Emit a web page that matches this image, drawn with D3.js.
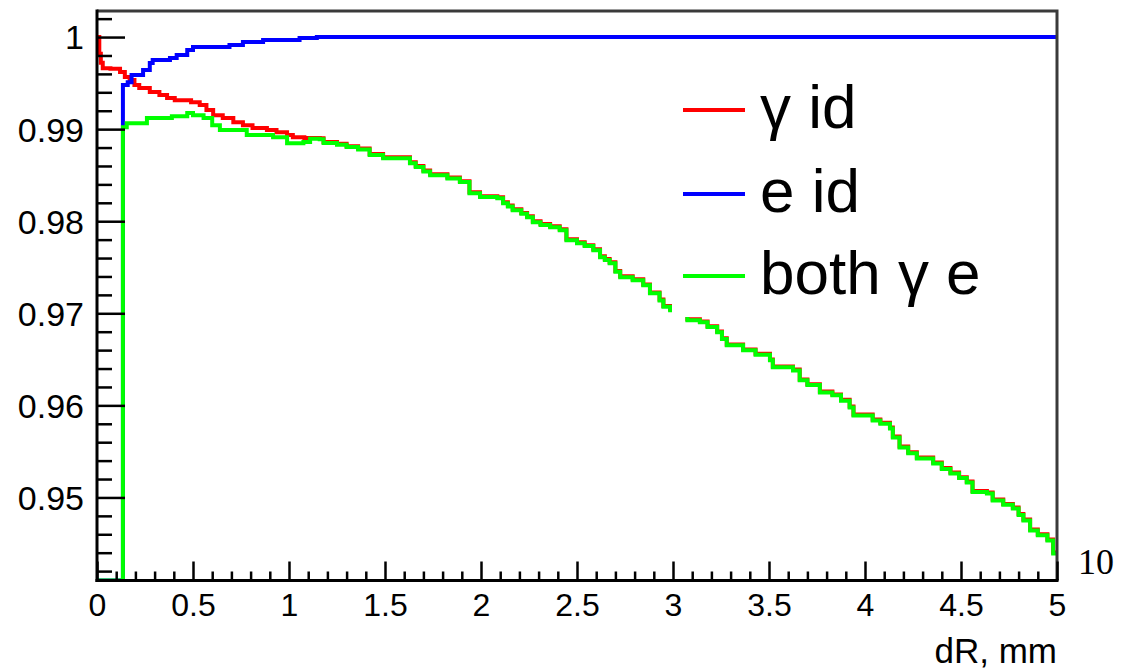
<!DOCTYPE html>
<html>
<head>
<meta charset="utf-8">
<script src="https://cdn.jsdelivr.net/npm/d3@7"></script>
<style>
  html, body { margin: 0; padding: 0; background: #fff; }
  svg { display: block; }
  .tick-label { font-family: "Liberation Sans", Arial, Helvetica, sans-serif; fill: #000; }
</style>
</head>
<body>
<svg id="chart" width="1128" height="669"></svg>
<script>
// dR range and efficiency range of the frame
const xDomain = [0, 5];
const yDomain = [0.94098, 1.00283];

// axis ticks
const xMajorTicks = [0, 0.5, 1, 1.5, 2, 2.5, 3, 3.5, 4, 4.5, 5];
const xTickLabels = ["0", "0.5", "1", "1.5", "2", "2.5", "3", "3.5", "4", "4.5", "5"];
const yMajorTicks = [0.95, 0.96, 0.97, 0.98, 0.99, 1.0];
const yTickLabels = ["0.95", "0.96", "0.97", "0.98", "0.99", "1"];

// legend entries
const legendLabels = ["γ id", "e id", "both γ e"];

// γ id : low-dR part (step left edges and contents)
const gammaHeadEdges = [0, 0.012, 0.02, 0.03, 0.07, 0.12, 0.145, 0.17, 0.195, 0.22, 0.275, 0.325, 0.365, 0.405, 0.49, 0.535, 0.57, 0.605, 0.655, 0.71, 0.76, 0.81, 0.885, 0.935, 0.99, 1.02, 1.08];
const gammaHeadValues = [1.0, 0.9982, 0.9972, 0.9966, 0.99655, 0.9962, 0.99565, 0.99533, 0.99478, 0.99446, 0.99402, 0.9937, 0.99337, 0.99315, 0.99293, 0.99261, 0.99207, 0.99152, 0.9912, 0.99076, 0.99043, 0.99011, 0.9899, 0.98967, 0.98935, 0.98913, 0.98905];

// both γ e : low-dR part
const bothHeadEdges = [0, 0.135, 0.155, 0.26, 0.39, 0.47, 0.50, 0.555, 0.60, 0.64, 0.78, 0.917, 0.99, 1.075, 1.11];
const bothHeadValues = [0, 0.9902, 0.99065, 0.9912, 0.99141, 0.99174, 0.9915, 0.9912, 0.99043, 0.9899, 0.98935, 0.98913, 0.98848, 0.98859, 0.98895];

// high-dR part, where γ id and both γ e run together
const tailEdges = [1.16, 1.18, 1.25, 1.30, 1.36, 1.42, 1.49, 1.63, 1.66, 1.70, 1.735, 1.825, 1.89, 1.94, 1.995, 2.085, 2.115, 2.14, 2.165, 2.21, 2.24, 2.27, 2.31, 2.36, 2.41, 2.445, 2.50, 2.54, 2.585, 2.62, 2.645, 2.67, 2.70, 2.725, 2.79, 2.845, 2.88, 2.93, 2.95, 2.985, 3.03, 3.075, 3.14, 3.18, 3.23, 3.255, 3.28, 3.365, 3.43, 3.505, 3.52, 3.625, 3.66, 3.70, 3.765, 3.83, 3.875, 3.92, 3.94, 4.04, 4.08, 4.13, 4.145, 4.18, 4.225, 4.27, 4.355, 4.40, 4.445, 4.49, 4.53, 4.56, 4.635, 4.665, 4.72, 4.77, 4.80, 4.825, 4.86, 4.90, 4.95, 4.98];
const gammaTailValues = [0.98900, 0.98860, 0.98840, 0.98815, 0.98790, 0.98730, 0.98695, 0.98640, 0.98600, 0.98550, 0.98510, 0.98475, 0.98435, 0.98315, 0.98272, 0.98260, 0.98206, 0.98170, 0.98130, 0.98090, 0.98053, 0.98000, 0.97970, 0.97945, 0.97912, 0.97803, 0.97771, 0.97740, 0.97695, 0.97619, 0.97590, 0.97553, 0.97460, 0.97401, 0.97369, 0.97314, 0.97227, 0.97150, 0.97080, 0.97043, 0.97000, 0.96934, 0.96912, 0.96860, 0.96803, 0.96730, 0.96662, 0.96608, 0.96560, 0.96499, 0.96423, 0.96390, 0.96282, 0.96230, 0.96151, 0.96119, 0.96060, 0.95988, 0.95901, 0.95847, 0.95810, 0.95760, 0.95662, 0.95553, 0.95490, 0.95434, 0.95380, 0.95320, 0.95271, 0.95220, 0.95173, 0.95070, 0.95053, 0.94977, 0.94930, 0.94890, 0.94820, 0.94760, 0.94651, 0.94600, 0.94543, 0.94401];
const bothTailValues = [0.98890, 0.98850, 0.98830, 0.98805, 0.98780, 0.98720, 0.98685, 0.98630, 0.98590, 0.98540, 0.98500, 0.98465, 0.98425, 0.98305, 0.98262, 0.98250, 0.98196, 0.98160, 0.98120, 0.98080, 0.98043, 0.97990, 0.97960, 0.97935, 0.97902, 0.97793, 0.97761, 0.97730, 0.97685, 0.97609, 0.97580, 0.97543, 0.97450, 0.97391, 0.97359, 0.97304, 0.97217, 0.97140, 0.97070, 0.97033, 0.96990, 0.96924, 0.96902, 0.96850, 0.96793, 0.96720, 0.96652, 0.96598, 0.96550, 0.96489, 0.96413, 0.96380, 0.96272, 0.96220, 0.96141, 0.96109, 0.96050, 0.95978, 0.95891, 0.95837, 0.95800, 0.95750, 0.95652, 0.95543, 0.95480, 0.95424, 0.95370, 0.95310, 0.95261, 0.95210, 0.95163, 0.95060, 0.95043, 0.94967, 0.94920, 0.94880, 0.94810, 0.94750, 0.94641, 0.94590, 0.94533, 0.94391];

// e id
const eEdges = [0, 0.135, 0.16, 0.18, 0.24, 0.275, 0.29, 0.38, 0.415, 0.47, 0.50, 0.69, 0.76, 0.865, 1.055, 1.145];
const eValues = [0, 0.99478, 0.9951, 0.99587, 0.99641, 0.99717, 0.9975, 0.99772, 0.99804, 0.99859, 0.99891, 0.99913, 0.99946, 0.99967, 0.99989, 1.0];

const colors = { gamma: "#ff0000", e: "#0000ff", both: "#00ff00" };

// ---- layout ----
const frame = { left: 97, right: 1057, top: 11, bottom: 580.5 };

const x = d3.scaleLinear().domain(xDomain).range([frame.left, frame.right]);
const y = d3.scaleLinear().domain(yDomain).range([frame.bottom, frame.top]).clamp(true);

const svg = d3.select("#chart");

// staircase outline of a histogram-like series
function stepPath(edges, values) {
  let d = `M${x(edges[0])},${y(values[0])}`;
  for (let i = 1; i < edges.length; i++) {
    d += `H${x(edges[i])}V${y(values[i])}`;
  }
  d += `H${x(xDomain[1])}`;
  return d;
}

const series = [
  { key: "gamma", edges: gammaHeadEdges.concat(tailEdges), values: gammaHeadValues.concat(gammaTailValues) },
  { key: "e", edges: eEdges, values: eValues },
  { key: "both", edges: bothHeadEdges.concat(tailEdges), values: bothHeadValues.concat(bothTailValues) }
];

svg.append("clipPath").attr("id", "frameClip")
  .append("rect")
  .attr("x", frame.left).attr("y", frame.top - 2)
  .attr("width", frame.right - frame.left).attr("height", frame.bottom - frame.top + 2);

const plot = svg.append("g").attr("clip-path", "url(#frameClip)");
plot.selectAll("path.series")
  .data(series)
  .enter().append("path")
  .attr("class", "series")
  .attr("d", s => stepPath(s.edges, s.values))
  .attr("fill", "none")
  .attr("stroke", s => colors[s.key])
  .attr("stroke-width", 4)
  .attr("stroke-linejoin", "miter")
  .attr("stroke-linecap", "butt");

// ---- legend (white box over the curves) ----
const legend = svg.append("g");
legend.append("rect")
  .attr("x", 672).attr("y", 68).attr("width", 340).attr("height", 249)
  .attr("fill", "#fff");
const legendKeys = ["gamma", "e", "both"];
const legendRowY = [110, 194, 276];
legendKeys.forEach((k, i) => {
  legend.append("line")
    .attr("x1", 683).attr("x2", 745)
    .attr("y1", legendRowY[i]).attr("y2", legendRowY[i])
    .attr("stroke", colors[k]).attr("stroke-width", 4);
  legend.append("text")
    .attr("class", "tick-label")
    .attr("x", 760).attr("y", legendRowY[i] + 18)
    .attr("font-size", 62)
    .text(legendLabels[i]);
});

// ---- frame: top / right borders ----
svg.append("path")
  .attr("d", `M${frame.left},${frame.top}H${frame.right}V${frame.bottom}`)
  .attr("fill", "none").attr("stroke", "#3a3a3a").attr("stroke-width", 3);

// ---- x axis (ticks point inward) ----
const xAxisMinor = d3.axisBottom(x)
  .tickValues(d3.range(0, 51).map(i => i / 10).filter(v => !xMajorTicks.some(m => Math.abs(m - v) < 1e-9)))
  .tickSizeInner(-9).tickSizeOuter(0).tickFormat("");
const xAxisMajor = d3.axisBottom(x)
  .tickValues(xMajorTicks)
  .tickSizeInner(-19).tickSizeOuter(0)
  .tickFormat((d, i) => xTickLabels[i]);

const gxMinor = svg.append("g").attr("transform", `translate(0,${frame.bottom})`).call(xAxisMinor);
const gxMajor = svg.append("g").attr("transform", `translate(0,${frame.bottom})`).call(xAxisMajor);
[gxMinor, gxMajor].forEach(g => {
  g.select(".domain").remove();
  g.selectAll(".tick line").attr("stroke", "#000").attr("stroke-width", 2.5);
});
gxMajor.selectAll(".tick text")
  .attr("class", "tick-label")
  .attr("font-size", 32)
  .attr("y", 35)
  .attr("dy", 0);

// ---- y axis (ticks point inward) ----
const yMinorVals = d3.range(0, 32).map(i => 0.942 + i * 0.002)
  .filter(v => v <= yDomain[1] && !yMajorTicks.some(m => Math.abs(m - v) < 1e-9));
const yAxisMinor = d3.axisLeft(y)
  .tickValues(yMinorVals)
  .tickSizeInner(-15).tickSizeOuter(0).tickFormat("");
const yAxisMajor = d3.axisLeft(y)
  .tickValues(yMajorTicks)
  .tickSizeInner(-28).tickSizeOuter(0)
  .tickFormat((d, i) => yTickLabels[i]);

const gyMinor = svg.append("g").attr("transform", `translate(${frame.left},0)`).call(yAxisMinor);
const gyMajor = svg.append("g").attr("transform", `translate(${frame.left},0)`).call(yAxisMajor);
[gyMinor, gyMajor].forEach(g => {
  g.select(".domain").remove();
  g.selectAll(".tick line").attr("stroke", "#000").attr("stroke-width", 2.5);
});
gyMajor.selectAll(".tick text")
  .attr("class", "tick-label")
  .attr("font-size", 34)
  .attr("x", -13)
  .attr("dy", "0.35em")
  .attr("text-anchor", "end");

// axis lines
svg.append("line")
  .attr("x1", frame.left).attr("x2", frame.left)
  .attr("y1", frame.top - 1.5).attr("y2", frame.bottom + 1.5)
  .attr("stroke", "#000").attr("stroke-width", 3);
svg.append("line")
  .attr("x1", frame.left - 1.5).attr("x2", frame.right + 1.5)
  .attr("y1", frame.bottom).attr("y2", frame.bottom)
  .attr("stroke", "#000").attr("stroke-width", 3);

// axis title
svg.append("text")
  .attr("class", "tick-label")
  .attr("x", frame.right).attr("y", 663)
  .attr("text-anchor", "end")
  .attr("font-size", 35)
  .text("dR, mm");

// stray exponent-style label at the right of the axis
svg.append("text")
  .attr("x", 1078).attr("y", 574)
  .attr("font-family", "'Liberation Serif', 'Times New Roman', serif")
  .attr("font-size", 36)
  .attr("fill", "#000")
  .text("10");
</script>
</body>
</html>
